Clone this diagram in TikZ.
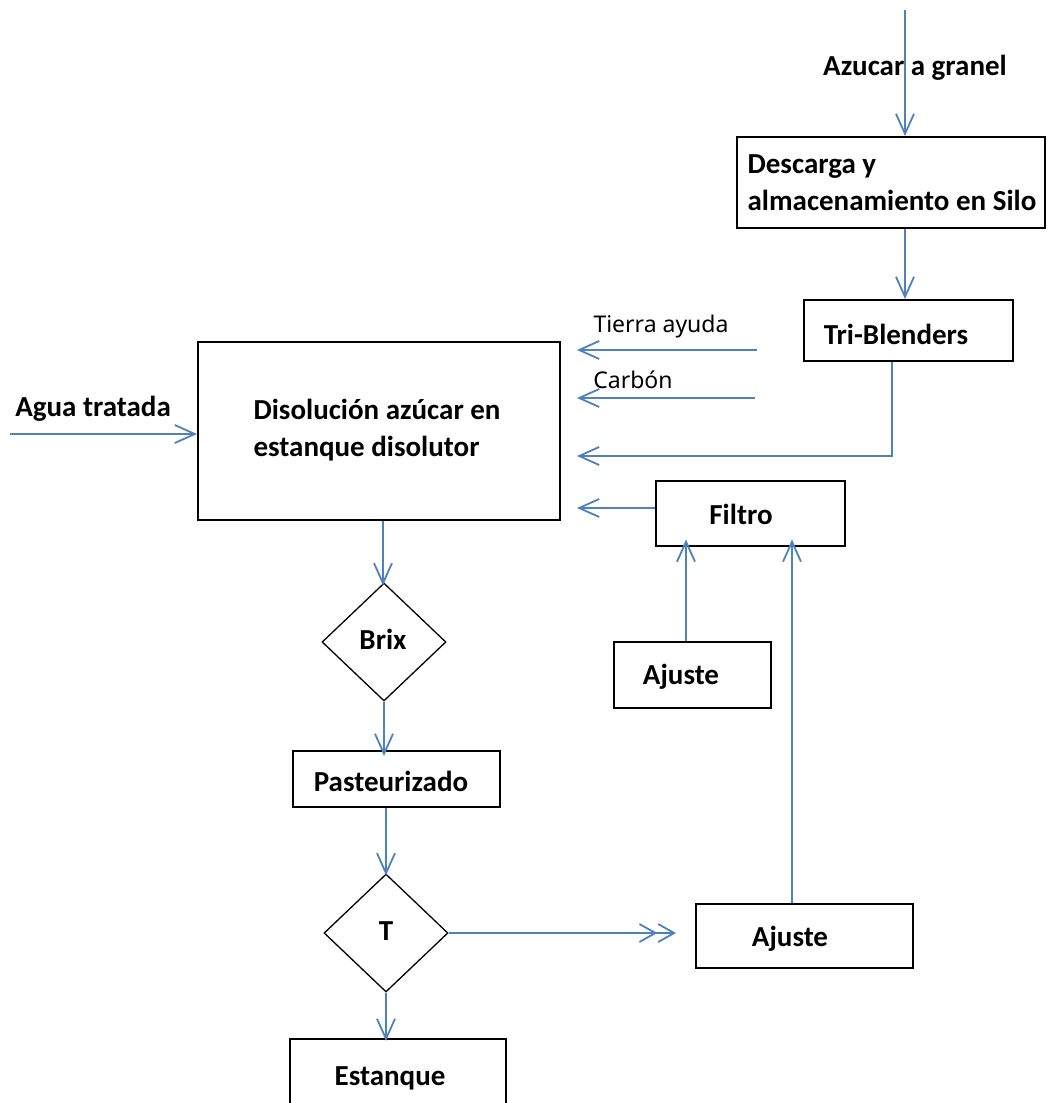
\documentclass[tikz,border=0pt]{standalone}
\usepackage{fontspec}
\setmainfont{Carlito}
\newfontfamily\smallfont{Noto Sans}
\usetikzlibrary{arrows.meta,shapes.geometric}
\definecolor{flowblue}{HTML}{4F81BD}
\tikzset{
  box/.style={draw=black,line width=2pt,rectangle,inner sep=0pt},
  dec/.style={draw=black,line width=1.3pt,diamond,inner sep=0pt,minimum width=124pt,minimum height=118pt},
  lbl/.style={font=\fontsize{29}{37}\selectfont\bfseries,inner sep=0pt,align=left},
  slbl/.style={font=\smallfont\fontsize{23}{27}\selectfont,inner sep=0pt},
  flow/.style={draw=flowblue,line width=2pt,-{Straight Barb[length=20pt,width=18pt,line width=1.8pt]}},
  flowdbl/.style={draw=flowblue,line width=2pt,-{Straight Barb[length=16pt,width=18pt,line width=1.8pt]Straight Barb[length=16pt,width=18pt,line width=1.8pt]}},
}
\begin{document}
\begin{tikzpicture}[x=1pt,y=-1pt]
\clip (0,0) rectangle (1047,1103);
\fill[white] (0,0) rectangle (1047,1103);

% boxes
\node[box,minimum width=308pt,minimum height=91pt] (silo) at (891,182.5) {};
\node[lbl] (siloT) at (892,183) {Descarga y\\almacenamiento en Silo};
\node[box,minimum width=209pt,minimum height=61pt] (tri) at (908.5,330.5) {};
\node[lbl] (triT) at (896,334) {Tri-Blenders};
\node[box,minimum width=362pt,minimum height=178pt] (dis) at (379,431) {};
\node[lbl] (disT) at (377,430) {Disolución azúcar en\\estanque disolutor};
\node[box,minimum width=189pt,minimum height=65pt] (filtro) at (750.5,513) {};
\node[lbl] (filtroT) at (741,514) {Filtro};
\node[box,minimum width=157pt,minimum height=66pt] (aj1) at (692.5,675) {};
\node[lbl] (aj1T) at (681,677) {Ajuste};
\node[box,minimum width=217pt,minimum height=64pt] (aj2) at (804.5,936) {};
\node[lbl] (aj2T) at (790,939) {Ajuste};
\node[box,minimum width=207pt,minimum height=56pt] (past) at (396.5,779) {};
\node[lbl] (pastT) at (391,781) {Pasteurizado};
\node[box,minimum width=216pt,minimum height=90pt] (estq) at (398,1084) {};
\node[lbl] (estqT) at (390,1078) {Estanque};

% diamonds
\node[dec] (brix) at (384,642) {};
\node[lbl] (brixT) at (383,639) {Brix};
\node[dec] (tdec) at (386,933) {};
\node[lbl] (tdecT) at (386,931) {T};

% free labels
\node[lbl] (azu) at (915,68) {Azucar a granel};
\node[lbl] (agua) at (93,409) {Agua tratada};
\node[slbl] (tierra) at (661,327) {Tierra ayuda};
\node[slbl] (carbon) at (633,380) {Carbón};

% free endpoints
\coordinate (azuS) at (905,10);
\coordinate (aguaS) at (10,434);
\coordinate (tierraS) at (757,350);
\coordinate (carbonS) at (755,398);

% connectors
\draw[flow] (azuS) -- (silo.north -| azuS);
\draw[flow] (silo.south -| 905,0) -- (tri.north -| 905,0);
\draw[flow] (aguaS) -- (dis.west |- aguaS);
\draw[flow] (tierraS) -- ([xshift=16pt]dis.east |- tierraS);
\draw[flow] (carbonS) -- ([xshift=16pt]dis.east |- carbonS);
\draw[flow] (tri.south -| 892,0) |- ([xshift=16pt]dis.east |- 0,456);
\draw[flow] (filtro.west |- 0,508) -- ([xshift=16pt]dis.east |- 0,508);
\draw[flow] (aj1.north -| 686,0) -- ([yshift=7pt]filtro.south -| 686,0);
\draw[flow] (aj2.north -| 792,0) -- ([yshift=7pt]filtro.south -| 792,0);
\draw[flow] (dis.south -| 383,0) -- ([yshift=-3pt]brix.north -| 383,0);
\draw[flow] (brix.south -| 384,0) -- ([yshift=-6pt]past.north -| 384,0);
\draw[flow] (past.south -| 386,0) -- ([yshift=-2pt]tdec.north -| 386,0);
\draw[flowdbl] (tdec.east) -- ([xshift=-19pt]aj2.west |- tdec.east);
\draw[flow] (tdec.south) -- ([yshift=-3pt]estq.north -| tdec.south);
\end{tikzpicture}
\end{document}
